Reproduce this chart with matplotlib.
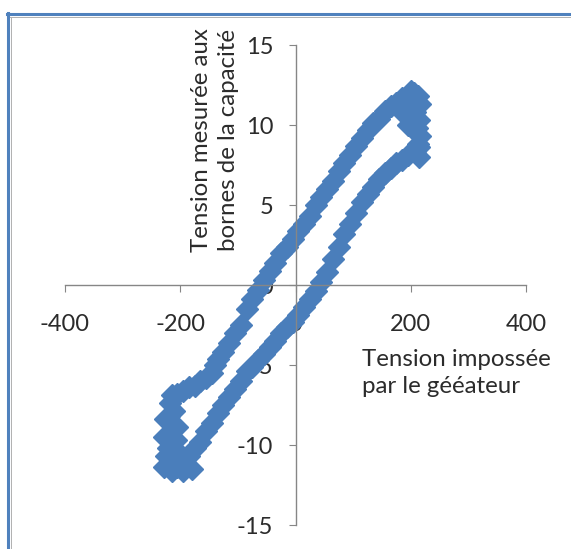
import matplotlib
matplotlib.use("Agg")
import matplotlib.pyplot as plt
from matplotlib.lines import Line2D

# ---- data ----
# rising branch (left band), bottom-left -> top-right
up_x = [-215, -205, -195, -185, -175, -165, -155, -145, -140, -135, -125, -115, -105, -95,
        -85, -75, -65, -55, -45, -35, -25, -15, -5, 5, 15, 25, 35, 45, 55, 65, 75, 85,
        95, 105, 115, 125, 135, 145, 155, 165, 175, 185, 195, 205]
up_y = [-6.9, -6.8, -6.6, -6.4, -6.3, -6.0, -5.8, -5.5, -5.0, -4.6, -4.2, -3.6, -3.0, -2.5,
        -1.5, -0.9, -0.3, 0.3, 0.9, 1.4, 2.0, 2.4, 2.9, 3.4, 3.8, 4.3, 5.0, 5.5, 6.0, 6.5,
        7.1, 7.6, 8.1, 8.7, 9.2, 9.7, 10.1, 10.4, 10.9, 11.2, 11.4, 11.7, 11.9, 12.0]
# right end, going down at max voltage
top_x = [212, 216, 200, 208, 190, 214, 196, 210, 216, 212, 208, 214, 185, 200]
top_y = [11.8, 11.3, 11.0, 10.8, 10.6, 10.3, 10.0, 9.8, 9.3, 8.8, 8.4, 8.0, 11.6, 12.1]
# falling branch (right band), top-right -> bottom-left
down_x = [215, 205, 195, 185, 175, 165, 155, 145, 135, 125, 115, 105, 95, 85, 75, 65, 55,
          45, 35, 25, 15, 5, -5, -15, -25, -35, -45, -55, -65, -75, -85, -95, -105, -115,
          -125, -135, -145, -155, -165, -175, -185, -195, -205, -215]
down_y = [8.6, 8.4, 8.1, 7.8, 7.6, 7.3, 7.0, 6.6, 6.1, 5.7, 5.2, 4.5, 3.8, 3.2, 2.4, 1.6,
          0.8, 0.2, -0.4, -0.9, -1.4, -1.9, -2.3, -2.6, -3.0, -3.5, -3.9, -4.3, -4.7, -5.1,
          -5.4, -6.0, -6.5, -7.0, -7.5, -8.0, -8.6, -9.1, -9.8, -10.2, -10.7, -11.2, -11.4,
          -11.6]
# left end, going up at min voltage
bot_x = [-228, -212, -225, -205, -222, -208, -228, -218, -205, -212, -226, -220, -210,
         -218, -180, -195]
bot_y = [-11.4, -10.9, -10.7, -10.4, -10.2, -9.7, -9.5, -9.2, -8.9, -8.7, -8.4, -8.2,
         -7.9, -7.4, -11.5, -11.6]

x_ticks = [-400, -200, 0, 200, 400]
y_ticks = [-15, -10, -5, 0, 5, 10, 15]
x_title = "Tension impossée\npar le gééateur"
y_title = "Tension mesurée aux\nbornes de la capacité"

W, H = 571, 549
plt.rcParams['font.family'] = ['Lato', 'DejaVu Sans']
fig = plt.figure(figsize=(W / 100, H / 100), dpi=100)
ax = fig.add_axes([65 / W, (H - 525) / H, (526 - 65) / W, (525 - 45) / H])

col = '#4A7EBB'
xs = up_x + top_x + down_x + bot_x
ys = up_y + top_y + down_y + bot_y
ax.plot(xs, ys, linestyle='none', marker='D', markersize=11,
        color=col, markeredgecolor=col, zorder=2)

ax.set_xlim(-400, 400)
ax.set_ylim(-15, 15)
ax.set_xticks(x_ticks)
ax.set_yticks(y_ticks)
ax.set_xticklabels([str(v) for v in x_ticks])
ax.set_yticklabels([str(v) for v in y_ticks])

for s in ['top', 'right']:
    ax.spines[s].set_visible(False)
ax.spines['left'].set_position(('data', 0))
ax.spines['bottom'].set_position(('data', 0))
for s in ['left', 'bottom']:
    ax.spines[s].set_color('#868686')
    ax.spines[s].set_linewidth(1.0)
ax.tick_params(axis='x', direction='out', length=5, color='#868686',
               labelsize=17, labelcolor='#2b2b2b', pad=16)
ax.tick_params(axis='y', direction='out', length=5, color='#868686',
               labelsize=17, labelcolor='#2b2b2b', pad=11)

fig.text(215 / W, 1 - 140 / H, y_title, rotation=90, ha='center', va='center',
         fontsize=17.3, color='#2b2b2b', linespacing=1.3, multialignment='center')
fig.text(362 / W, 1 - 373 / H, x_title, ha='left', va='center',
         fontsize=17.3, color='#2b2b2b', linespacing=1.4, multialignment='left')

# frame of the picture
fig.add_artist(Line2D([7 / W, 1], [1 - 14 / H, 1 - 14 / H], transform=fig.transFigure,
                      color='#4F81BD', linewidth=2.2))
fig.add_artist(Line2D([7 / W, 1], [1 - 16.8 / H, 1 - 16.8 / H], transform=fig.transFigure,
                      color='#b0b0b0', linewidth=0.7))
fig.add_artist(Line2D([8 / W, 8 / W], [0, 1 - 13 / H], transform=fig.transFigure,
                      color='#4F81BD', linewidth=2.2))
fig.add_artist(Line2D([11 / W, 11 / W], [0, 1 - 16.8 / H], transform=fig.transFigure,
                      color='#b0b0b0', linewidth=0.7))

fig.savefig('out.png', dpi=100)
